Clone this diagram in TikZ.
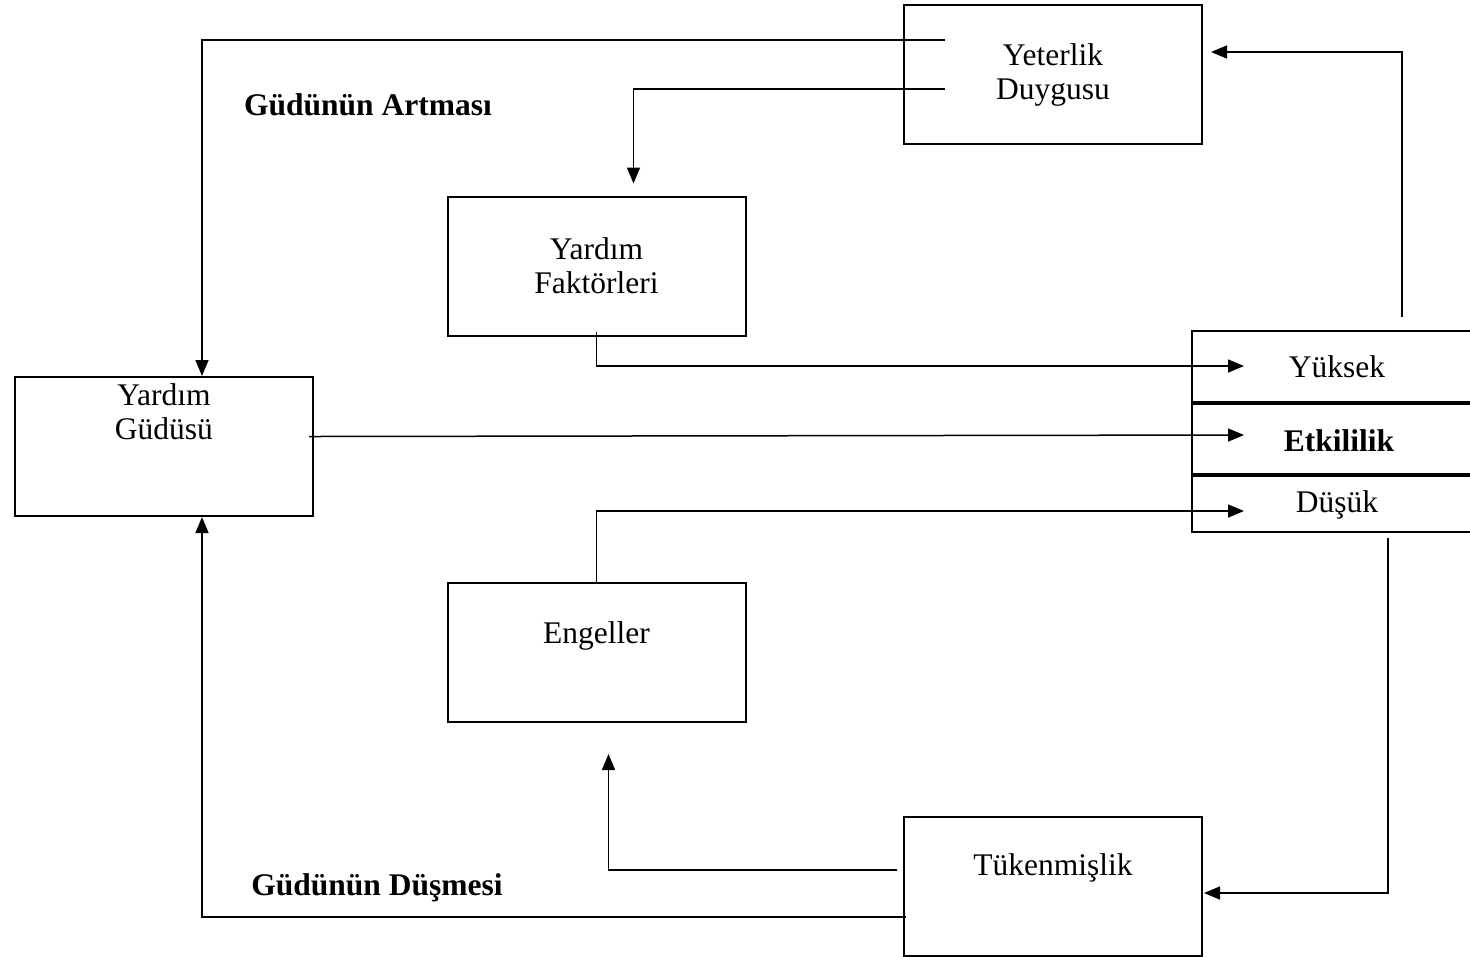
\documentclass[tikz,border=0pt]{standalone}
\usepackage{fontspec}
\setmainfont{Liberation Serif}
\usetikzlibrary{calc,arrows.meta,positioning}

\begin{document}
\begin{tikzpicture}[x=0.4pt, y=-0.4pt,
			box/.style  = {draw, line width=0.8pt, rectangle, minimum width=119.2pt, minimum height=55.6pt,
			               inner sep=0pt, align=center, font=\fontsize{12.6}{13.6}\selectfont},
			txt/.style  = {inner sep=0pt, align=center, font=\fontsize{12.6}{13.6}\selectfont},
			lbl/.style  = {txt, font=\fontsize{12.6}{13.6}\selectfont\bfseries},
			conn/.style = {->, line width=0.6pt},
			>={Triangle[length=6.4pt, width=5.2pt]}]
			
			\useasboundingbox (0,0) rectangle (1470,956);
			
			\node[box] (yet) at (1053,74.5) {Yeterlik\\Duygusu};
			\node[box] (fak) at (596.5,266) {Yardım\\Faktörleri};
			\node[box] (gud) at (164,446.5) {};
			\node[box] (eng) at (596.5,652.5) {};
			\node[box] (tuk) at (1053,886) {};
			\node[box, minimum width=115.2pt, minimum height=80.4pt] (eff) at (1336,431.5) {};
			
			\node[txt] (gudt) at (164,412) {Yardım\\Güdüsü};
			\node[txt] (engt) at (596.5,636) {Engeller};
			\node[txt] (tukt) at (1053,868) {Tükenmişlik};
			
			\node[txt] (yuk) at ($(eff.north west)+(146,37)$) {Yüksek};
			\node[lbl] (etk) at ($(eff.north west)+(148,111)$) {Etkililik};
			\node[txt] (dus) at ($(eff.north west)+(146,175)$) {Düşük};
			
			\foreach \dy in {73,145}
			\draw[line width=1.4pt] ($(eff.north west)+(0,\dy)$) -- ($(eff.north east)+(0,\dy)$);
			
			\node[lbl] (up) at (368,105) {Güdünün Artması};
			\node[lbl] (down) at (377,888) {Güdünün Düşmesi};
			
			\draw[conn] ($(yet.north west)+(42,36)$) -| ($(gud.north west)+(188,0)$);
			\draw[conn] ($(yet.north west)+(42,85)$) -| ($(fak.north west)+(187,-12)$);
			\draw[conn] ($(fak.south)+(0,-5)$) |- ($(eff.north west)+(53,36)$);
			\draw[conn] ($(gud.east)+(-5,-10)$) -- ($(eff.north west)+(53,105)$);
			\draw[conn] (eng.north) |- ($(eff.north west)+(53,181)$);
			\draw[conn] ($(eff.north west)+(211,-13)$) |- ($(yet.north east)+(8,48)$);
			\draw[conn] ($(eff.south west)+(197,5)$) |- ($(tuk.east)+(1,7)$);
			\draw[conn] ($(tuk.west)+(-6,-16)$) -| ($(eng.south west)+(162,31)$);
			\draw[conn] ($(tuk.west)+(3,31)$) -| ($(gud.south west)+(188,0)$);
		\end{tikzpicture}
\end{document}
